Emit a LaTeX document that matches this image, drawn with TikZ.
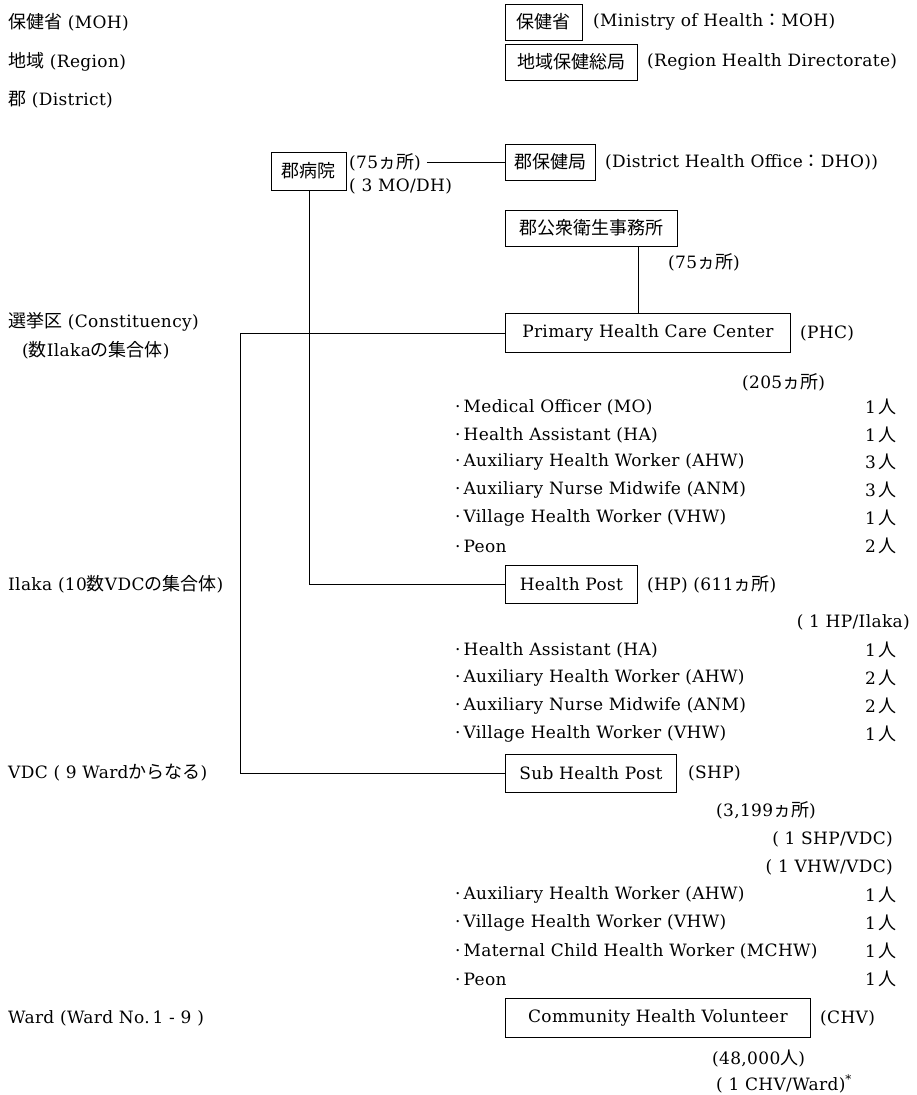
\documentclass[tikz,border=0pt]{standalone}
\usepackage{fontspec}
\setmainfont{DejaVu Serif}
\newfontfamily\jpfont{Noto Sans CJK JP}
\newcommand{\J}[1]{{\fontsize{18}{20}\selectfont\jpfont #1}}
\tikzset{
  base/.style={font=\fontsize{17}{20}\selectfont\addfontfeatures{LetterSpace=2}, inner sep=0pt},
  lbl/.style={base, anchor=west},
  rlbl/.style={base, anchor=east},
  box/.style={base, draw, line width=0.8pt, minimum height=36pt, anchor=west},
  conn/.style={line width=0.8pt}
}
\begin{document}
\begin{tikzpicture}[x=1pt,y=-1pt]
\useasboundingbox (0,0) rectangle (916,1095);
% left column
\node[lbl] (l1) at (8,22) {\J{保健省} (MOH)};
\node[lbl] (l2) at (8,62) {\J{地域} (Region)};
\node[lbl] (l3) at (8,100) {\J{郡} (District)};
\node[lbl] (l4) at (8,322) {\J{選挙区} (Constituency)};
\node[lbl] (l5) at (22,350) {(\J{数}Ilaka\J{の集合体})};
\node[lbl] (l6) at (8,584) {Ilaka (10\J{数}VDC\J{の集合体})};
\node[lbl] (l7) at (8,773) {VDC ( 9 Ward\J{からなる})};
\node[lbl] (l8) at (8,1018) {Ward (Ward No.\,1 - 9 )};
% top boxes
\node[box, minimum width=77pt] (moh) at (505,22) {\J{保健省}};
\node[lbl] (mohT) at (593,22) {(Ministry of Health\J{：}MOH)};
\node[box, minimum width=132pt] (reg) at (505,62) {\J{地域保健総局}};
\node[lbl] (regT) at (647,62) {(Region Health Directorate)};
\node[box, minimum width=75pt, minimum height=38pt] (hosp) at (271,171) {\J{郡病院}};
\node[lbl] (h75) at (349,162) {(75\J{ヵ所})};
\node[lbl] (hmo) at (349,186) {( 3 MO/DH)};
\node[box, minimum width=90pt] (dho) at (505,162) {\J{郡保健局}};
\node[lbl] (dhoT) at (605,162) {(District Health Office\J{：}DHO))};
\node[box, minimum width=172pt] (dpho) at (505,228) {\J{郡公衆衛生事務所}};
\node[lbl] (d75) at (668,262) {(75\J{ヵ所})};
% PHC
\node[box, minimum width=285pt, minimum height=39pt] (phc) at (505,333) {Primary Health Care Center};
\node[lbl] (phcT) at (800,333) {(PHC)};
\node[lbl] (phcN) at (742,382) {(205\J{ヵ所})};
\foreach [count=\i] \t/\n/\y in {{Medical Officer (MO)}/1/407, {Health Assistant (HA)}/1/435, {Auxiliary Health Worker (AHW)}/3/462, {Auxiliary Nurse Midwife (ANM)}/3/490, {Village Health Worker (VHW)}/1/518, {Peon}/2/546}{
  \node[lbl] (pa\i) at (455,\y) {·\hspace{3pt}\t};
  \node[rlbl] (pn\i) at (897,\y) {\n\,\J{人}};
}
% HP
\node[box, minimum width=132pt, minimum height=38pt] (hp) at (505,584) {Health Post};
\node[lbl] (hpT) at (647,584) {(HP) (611\J{ヵ所})};
\node[rlbl] (hpN) at (910,622) {( 1 HP/Ilaka)};
\foreach [count=\i] \t/\n/\y in {{Health Assistant (HA)}/1/650, {Auxiliary Health Worker (AHW)}/2/678, {Auxiliary Nurse Midwife (ANM)}/2/706, {Village Health Worker (VHW)}/1/734}{
  \node[lbl] (ha\i) at (455,\y) {·\hspace{3pt}\t};
  \node[rlbl] (hn\i) at (897,\y) {\n\,\J{人}};
}
% SHP
\node[box, minimum width=171pt, minimum height=38pt] (shp) at (505,773) {Sub Health Post};
\node[lbl] (shpT) at (688,773) {(SHP)};
\node[lbl] (shpN) at (716,810) {(3,199\J{ヵ所})};
\node[rlbl] (shpA) at (893,839) {( 1 SHP/VDC)};
\node[rlbl] (shpB) at (893,867) {( 1 VHW/VDC)};
\foreach [count=\i] \t/\n/\y in {{Auxiliary Health Worker (AHW)}/1/895, {Village Health Worker (VHW)}/1/923, {Maternal Child Health Worker (MCHW)}/1/951, {Peon}/1/979}{
  \node[lbl] (sa\i) at (455,\y) {·\hspace{3pt}\t};
  \node[rlbl] (sn\i) at (897,\y) {\n\,\J{人}};
}
% CHV
\node[box, minimum width=305pt, minimum height=39pt] (chv) at (505,1018) {Community Health Volunteer};
\node[lbl] (chvT) at (820,1018) {(CHV)};
\node[lbl] (chvN) at (712,1059) {(48,000\J{人})};
\node[lbl] (chvA) at (716,1084) {( 1 CHV/Ward)\textsuperscript{*}};
% connectors
\draw[conn] ([xshift=6pt]h75.east) -- (dho.west);
\coordinate (vx) at (638,0);
\draw[conn] (dpho.south -| vx) -- (phc.north -| vx);
\draw[conn] (hosp.south) |- (hp.west);
\coordinate (bus) at (240,333);
\draw[conn] (phc.west) -- (bus) |- (shp.west);
\end{tikzpicture}
\end{document}
